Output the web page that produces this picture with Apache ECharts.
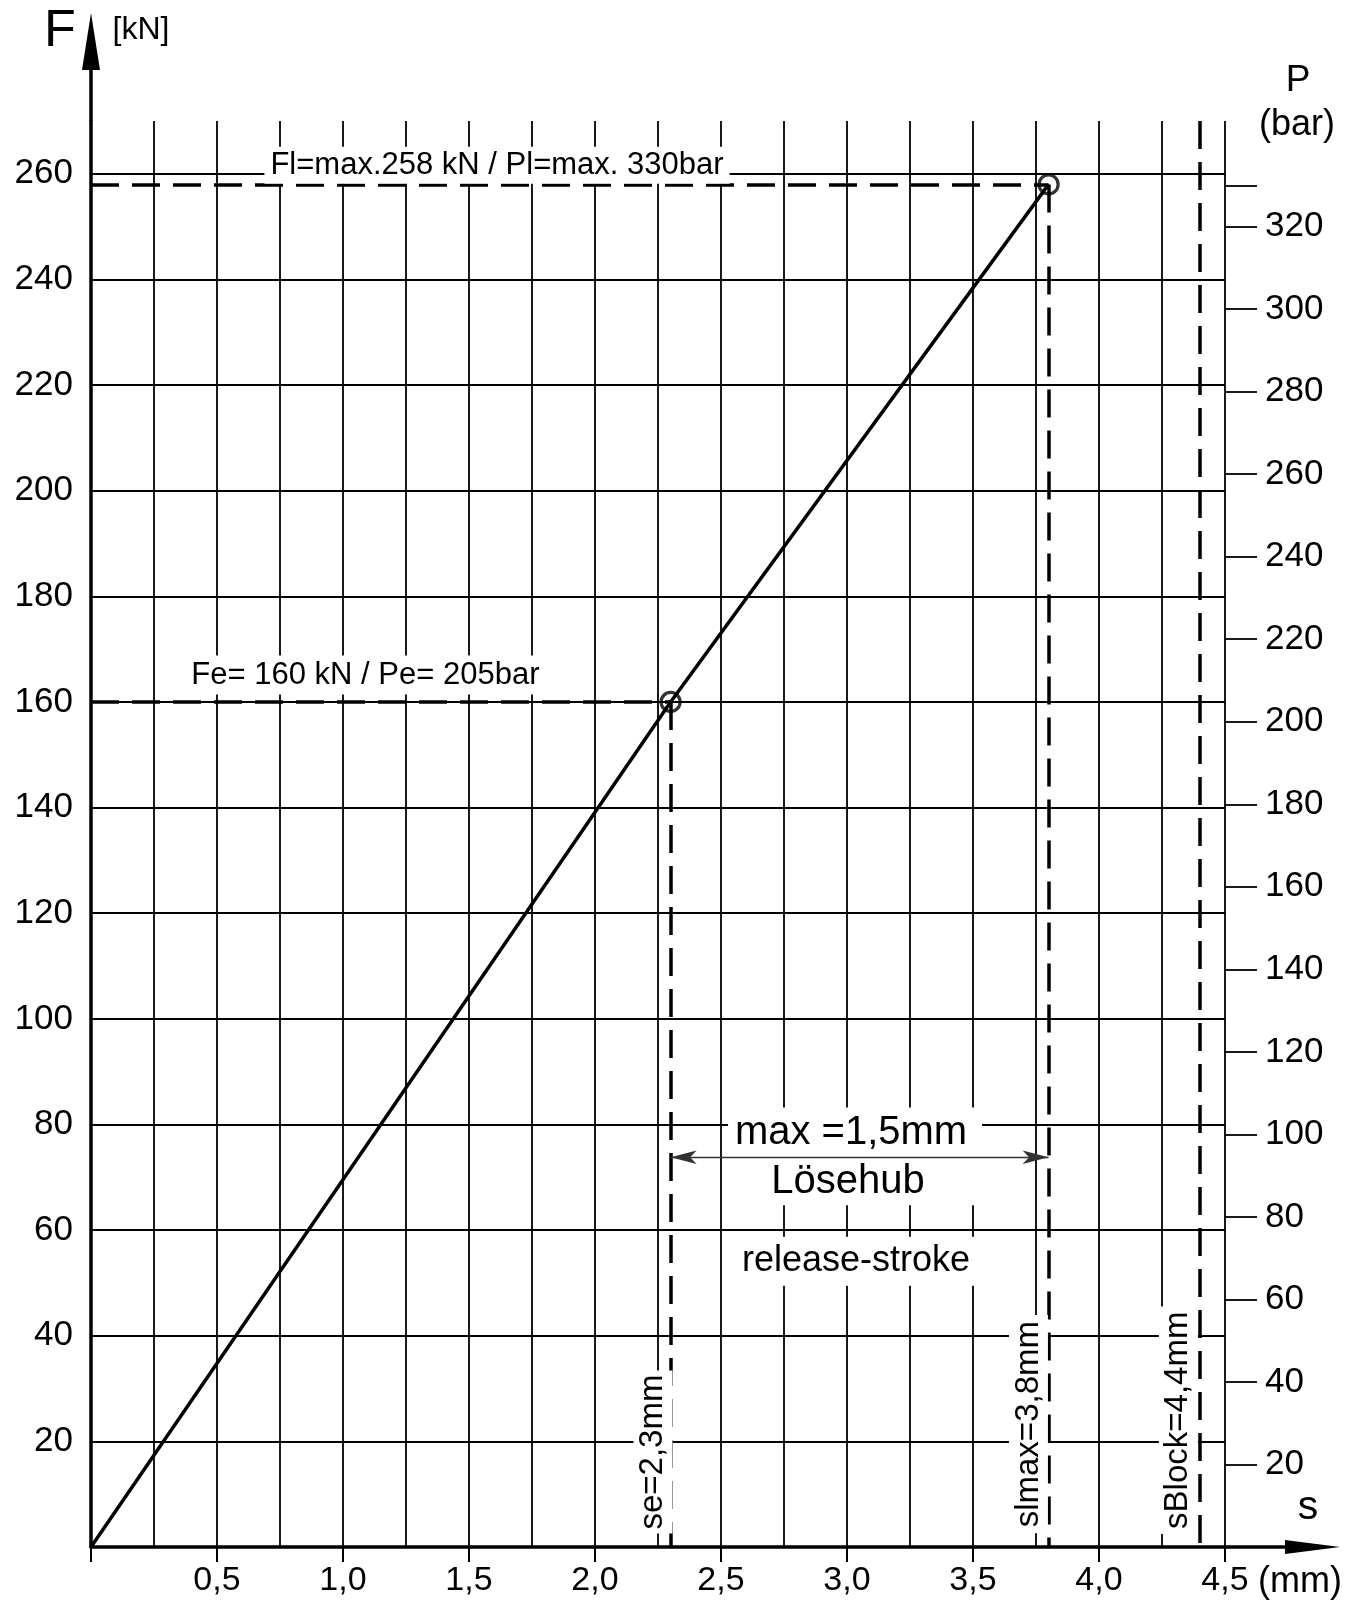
<!DOCTYPE html>
<html><head><meta charset="utf-8">
<script src="https://cdn.jsdelivr.net/npm/echarts@6/dist/echarts.min.js"></script>
<style>html,body{margin:0;padding:0;background:#fff}#c{width:1368px;height:1602px}</style>
</head><body><div id="c"></div>
<script>
// ---- data ----
const strokeS = [0, 2.3, 3.8];          // s (mm)
const forceF = [0, 160, 258];           // F (kN)
const markedPoints = [[2.3, 160], [3.8, 258]];
const seS = 2.3, slmaxS = 3.8, sBlockS = 4.4;
const feF = 160, flF = 258;
const fTicks = [20, 40, 60, 80, 100, 120, 140, 160, 180, 200, 220, 240, 260];
const pTicks = [20, 40, 60, 80, 100, 120, 140, 160, 180, 200, 220, 240, 260, 280, 300, 320];
const pExtraTick = 330;
const sMax = 4.5, fMax = 270;
const pPerF = 1.28;
const releaseArrowF = 73.8;
const texts = {
  fl: 'Fl=max.258 kN / Pl=max. 330bar',
  fe: 'Fe= 160 kN / Pe= 205bar',
  max: 'max =1,5mm',
  lose: 'Lösehub',
  release: 'release-stroke',
  se: 'se=2,3mm',
  slmax: 'slmax=3,8mm',
  sblock: 'sBlock=4,4mm'
};

const FONT = '"Liberation Sans", Arial, sans-serif';
const chart = echarts.init(document.getElementById('c'), null, {renderer: 'canvas'});
const black = '#000';

const option = {
  backgroundColor: '#fff',
  animation: false,
  grid: {left: 91, top: 121, right: 143, bottom: 55},
  xAxis: {
    type: 'value', min: 0, max: sMax, interval: 0.5,
    axisLine: {show: true, lineStyle: {color: black, width: 3.5}},
    axisTick: {show: true, length: 15, lineStyle: {color: black, width: 2}},
    minorTick: {show: false, splitNumber: 2},
    splitLine: {show: true, lineStyle: {color: black, width: 1.8}},
    minorSplitLine: {show: true, lineStyle: {color: black, width: 1.8}},
    axisLabel: {
      margin: 17, color: black, fontSize: 34, fontFamily: FONT,
      formatter: v => v === 0 ? '' : v.toFixed(1).replace('.', ',')
    }
  },
  yAxis: [{
    type: 'value', min: 0, max: fMax, interval: 20,
    axisLine: {show: true, lineStyle: {color: black, width: 3.5}},
    axisTick: {show: false},
    splitLine: {show: false},
    axisLabel: {customValues: fTicks, margin: 18, color: black, fontSize: 35, fontFamily: FONT}
  }, {
    type: 'value', min: 0, max: fMax * pPerF, position: 'right',
    axisLine: {show: false},
    axisTick: {show: true, length: 32, customValues: pTicks.concat([pExtraTick]), lineStyle: {color: black, width: 1.8}},
    splitLine: {show: false},
    axisLabel: {customValues: pTicks, margin: 40, color: black, fontSize: 35, fontFamily: FONT}
  }],
  series: [
    { // horizontal grid lines
      type: 'line', data: [], z: 1, silent: true,
      markLine: {
        silent: true, symbol: 'none', animation: false, z: 4,
        lineStyle: {color: black, width: 1.8, type: 'solid'},
        label: {show: false},
        data: fTicks.map(v => [{coord: [0, v]}, {coord: [sMax, v]}])
      }
    },
    { // dashed guide lines
      type: 'line', data: [], z: 3, silent: true,
      markLine: {
        silent: true, symbol: 'none', animation: false, z: 5,
        lineStyle: {color: black, width: 3.5, type: [28, 13]},
        label: {show: false},
        data: [
          [{coord: [0, flF]}, {coord: [slmaxS, flF]}],
          [{coord: [slmaxS, flF]}, {coord: [slmaxS, 0]}],
          [{coord: [0, feF]}, {coord: [seS, feF]}],
          [{coord: [seS, feF]}, {coord: [seS, 0]}],
          [{coord: [sBlockS, fMax]}, {coord: [sBlockS, 0]}]
        ]
      }
    },
    { // release stroke dimension arrow
      type: 'line', data: [], z: 11, silent: true,
      markLine: {
        silent: true, symbol: ['arrow', 'arrow'], symbolSize: [10, 26], animation: false, z: 14,
        lineStyle: {color: '#333', width: 1.4, type: 'solid'},
        itemStyle: {color: '#111'},
        label: {show: false},
        data: [[{coord: [seS, releaseArrowF]}, {coord: [slmaxS, releaseArrowF]}]]
      }
    },
    { // characteristic line
      type: 'line', z: 15, symbol: 'none',
      lineStyle: {color: black, width: 3.5},
      data: strokeS.map((s, i) => [s, forceF[i]])
    },
    { // marked points
      type: 'scatter', z: 16, symbol: 'circle', symbolSize: 19,
      itemStyle: {color: 'rgba(255,255,255,0)', borderColor: black, borderWidth: 3.2},
      data: markedPoints
    }
  ]
};
chart.setOption(option);

function px(s, f) { return chart.convertToPixel({gridIndex: 0}, [s, f]); }

function txt(p, text, size, opts) {
  opts = opts || {};
  return {
    type: 'text', x: p[0], y: p[1], z: 12, rotation: opts.rotation || 0, silent: true,
    style: Object.assign({
      text: text, fill: black, font: size + 'px ' + FONT,
      align: opts.align || 'center', verticalAlign: 'middle'
    }, opts.bg ? {backgroundColor: '#fff', padding: opts.padding} : {})
  };
}

const xEnd = px(sMax, 0), yEnd = px(0, fMax);
const b1 = px(2.528, 83.2), b2 = px(3.536, 64.7);

const graphics = [
  // axis extensions and arrows
  {type: 'line', z: 20, silent: true, shape: {x1: yEnd[0], y1: yEnd[1], x2: yEnd[0], y2: 64}, style: {stroke: black, lineWidth: 3.5}},
  {type: 'polygon', z: 20, silent: true, shape: {points: [[yEnd[0], 13], [yEnd[0] - 9, 70], [yEnd[0] + 9, 70]]}, style: {fill: black}},
  {type: 'line', z: 20, silent: true, shape: {x1: xEnd[0], y1: xEnd[1], x2: 1290, y2: xEnd[1]}, style: {stroke: black, lineWidth: 3.5}},
  {type: 'polygon', z: 20, silent: true, shape: {points: [[1340, xEnd[1]], [1285, xEnd[1] - 7], [1285, xEnd[1] + 7]]}, style: {fill: black}},
  // white box behind release stroke texts
  {type: 'rect', z: 10, silent: true, shape: {x: b1[0], y: b1[1], width: b2[0] - b1[0], height: b2[1] - b1[1]}, style: {fill: '#fff'}},
  // annotations
  txt(px(1.611, 261.6), texts.fl, 31, {bg: true, padding: [3, 6, 3, 6]}),
  txt(px(1.089, 165.1), texts.fe, 31, {bg: true, padding: [5, 6, 3, 6]}),
  txt(px(3.016, 78.3), texts.max, 40),
  txt(px(3.004, 69.2), texts.lose, 40),
  txt(px(3.036, 54.1), texts.release, 36, {bg: true, padding: [5, 8, 8, 8]}),
  txt(px(2.230, 17.97), texts.se, 33, {bg: true, padding: [3, 4, 3, 4], rotation: Math.PI / 2}),
  txt(px(3.720, 23.26), texts.slmax, 33, {bg: true, padding: [3, 6, 3, 6], rotation: Math.PI / 2}),
  txt(px(4.315, 24.0), texts.sblock, 33, {bg: true, padding: [3, 5, 3, 5], rotation: Math.PI / 2}),
  // axis titles
  txt([60, 31.5], 'F', 52),
  txt([141, 30], '[kN]', 32),
  txt([1298, 81], 'P', 37),
  txt([1297, 125], '(bar)', 36),
  txt([1308, 1508], 's', 41),
  txt([1258, 1582], '(mm)', 36, {align: 'left'})
];
chart.setOption({graphic: {elements: graphics}});
</script>
</body></html>
